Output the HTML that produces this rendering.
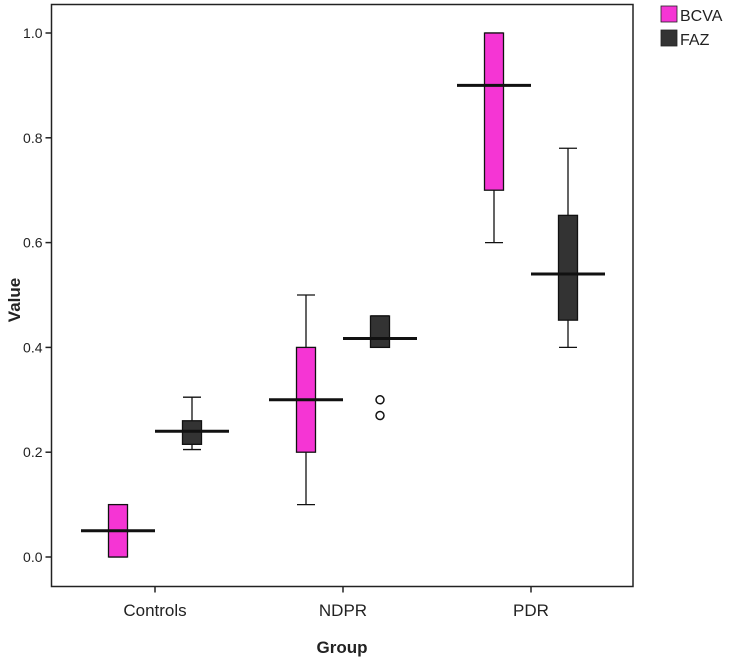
<!DOCTYPE html>
<html><head><meta charset="utf-8"><style>
body{margin:0;background:#fff;}
svg{display:block;font-family:"Liberation Sans",Arial,sans-serif;}
</style></head><body>
<svg id="chart" width="735" height="662"></svg>
<script>
const categories=["Controls","NDPR","PDR"];
const seriesNames=["BCVA","FAZ"];
const seriesColors=["#f535d4","#333333"];
// [min, q1, median, q3, max]
const bcvaStats=[[0,0,0.05,0.1,0.1],[0.1,0.2,0.3,0.4,0.5],[0.6,0.7,0.9,1.0,1.0]];
const fazStats=[[0.205,0.215,0.24,0.26,0.305],[0.40,0.40,0.417,0.46,0.46],[0.40,0.452,0.54,0.652,0.78]];
const fazOutliers=[[],[0.30,0.27],[]];
const yTicks=[0,0.2,0.4,0.6,0.8,1.0];
const yTickLabels=["0.0","0.2","0.4","0.6","0.8","1.0"];

const NS="http://www.w3.org/2000/svg";
const svg=document.getElementById('chart');
function el(t,a,p){const e=document.createElementNS(NS,t);for(const k in a)e.setAttribute(k,a[k]);(p||svg).appendChild(e);return e;}
const L=51.5,R=633,T=4.5,B=586.5;
const y=v=>557-v*524;
const x=i=>155+i*188;

let f=el('rect',{x:L,y:T,width:R-L,height:B-T,fill:'none',stroke:'#222','stroke-width':1.5});



yTicks.forEach((v,i)=>{
  let t=el('line',{x1:L-6,x2:L,y1:y(v),y2:y(v),stroke:'#222','stroke-width':1.5});
  
  
  let tx=el('text',{x:L-9,y:y(v)+5,'text-anchor':'end','font-size':14,fill:'#222'});
  tx.textContent=yTickLabels[i];
  
  
});
categories.forEach((c,i)=>{
  let t=el('line',{x1:x(i),x2:x(i),y1:B,y2:B+6,stroke:'#222','stroke-width':1.5});
  
  
  let tx=el('text',{x:x(i),y:616,'text-anchor':'middle','font-size':17,fill:'#222'});
  tx.textContent=c;
  
  
});
let xt=el('text',{x:342,y:653,'text-anchor':'middle','font-size':17,'font-weight':'bold',fill:'#222'});
xt.textContent='Group';


let yt=el('text',{x:0,y:0,transform:'translate(20,300) rotate(-90)','text-anchor':'middle','font-size':17,'font-weight':'bold',fill:'#222'});
yt.textContent='Value';



function drawBox(s,cx,color,name){
  const g=el('g',{});
  
  
  const [mn,q1,md,q3,mx]=s;
  el('line',{x1:cx,x2:cx,y1:y(mx),y2:y(q3),stroke:'#111','stroke-width':1.3},g);
  el('line',{x1:cx,x2:cx,y1:y(q1),y2:y(mn),stroke:'#111','stroke-width':1.3},g);
  el('line',{x1:cx-9,x2:cx+9,y1:y(mx),y2:y(mx),stroke:'#111','stroke-width':1.3},g);
  el('line',{x1:cx-9,x2:cx+9,y1:y(mn),y2:y(mn),stroke:'#111','stroke-width':1.3},g);
  el('rect',{x:cx-9.5,y:y(q3),width:19,height:Math.max(1,y(q1)-y(q3)),fill:color,stroke:'#111','stroke-width':1.3},g);
  el('line',{x1:cx-37,x2:cx+37,y1:y(md),y2:y(md),stroke:'#111','stroke-width':3},g);
}
categories.forEach((c,i)=>{
  drawBox(bcvaStats[i],x(i)-37,seriesColors[0],'bcva-box-'+c.toLowerCase());
  drawBox(fazStats[i],x(i)+37,seriesColors[1],'faz-box-'+c.toLowerCase());
  fazOutliers[i].forEach(v=>{
    let o=el('circle',{cx:x(i)+37,cy:y(v),r:4,fill:'none',stroke:'#111','stroke-width':1.5});
    
    
  });
});
seriesNames.forEach((n,i)=>{
  let r=el('rect',{x:661,y:6+i*24,width:16,height:16,fill:seriesColors[i],stroke:'#222','stroke-width':0.8});
  
  
  let t=el('text',{x:680,y:21+i*24,'font-size':16,fill:'#222'});
  t.textContent=n;
  
  
});
</script>
</body></html>
